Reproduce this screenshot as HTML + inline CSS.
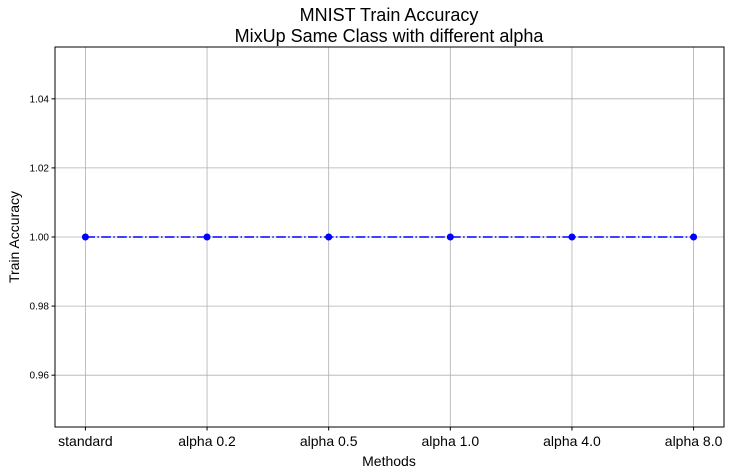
<!DOCTYPE html>
<html><head><meta charset="utf-8"><style>
body{margin:0;background:#fff;}
svg{display:block;font-family:"Liberation Sans","DejaVu Sans",sans-serif;}
</style></head><body>
<svg id="chart" width="733" height="474">
<rect width="733" height="474" fill="#fff"/>
<text x="389" y="21" text-anchor="middle" font-size="18">MNIST Train Accuracy</text>
<text x="389" y="42" text-anchor="middle" font-size="18">MixUp Same Class with different alpha</text>
<g id="grid"></g><g id="series"></g>
<rect x="55" y="47" width="669" height="380" fill="none" stroke="#000" stroke-width="1"/>
<g id="axes"></g>
<text x="389" y="466" text-anchor="middle" font-size="14">Methods</text>
<text transform="translate(19,237) rotate(-90)" text-anchor="middle" font-size="14">Train Accuracy</text>
</svg>
<script>
const categories=["standard","alpha 0.2","alpha 0.5","alpha 1.0","alpha 4.0","alpha 8.0"];
const values=[1.0,1.0,1.0,1.0,1.0,1.0];
const yTicks=[0.96,0.98,1.00,1.02,1.04];
const yTickLabels=["0.96","0.98","1.00","1.02","1.04"];
const L=55,R=724,T=47,B=427,yMin=0.945,yMax=1.055;
const NS="http://www.w3.org/2000/svg";
const xs=i=>L+(i+0.25)/(categories.length-0.5)*(R-L);
const ys=v=>B-(v-yMin)/(yMax-yMin)*(B-T);
function mk(tag,attrs,parent){const e=document.createElementNS(NS,tag);for(const k in attrs)e.setAttribute(k,attrs[k]);parent.appendChild(e);return e;}
const grid=document.getElementById('grid'),axes=document.getElementById('axes'),ser=document.getElementById('series');
categories.forEach((c,i)=>{
 const x=xs(i);
 const g=mk('line',{x1:x,x2:x,y1:T,y2:B,stroke:'#b0b0b0','stroke-width':0.8},grid);
 
 
 const tk=mk('line',{x1:x,x2:x,y1:B,y2:B+3.5,stroke:'#000'},axes);
 
 
 const t=mk('text',{x:x,y:B+19,'text-anchor':'middle','font-size':14},axes);
 t.textContent=c;
 
 
});
yTicks.forEach((v,i)=>{
 const y=ys(v);
 const g=mk('line',{x1:L,x2:R,y1:y,y2:y,stroke:'#b0b0b0','stroke-width':0.8},grid);
 
 
 const tk=mk('line',{x1:L-3.5,x2:L,y1:y,y2:y,stroke:'#000'},axes);
 
 
 const t=mk('text',{x:L-6,y:y+3.5,'text-anchor':'end','font-size':10},axes);
 t.textContent=yTickLabels[i];
 
 
});
const pl=mk('polyline',{points:values.map((v,i)=>xs(i)+','+ys(v)).join(' '),fill:'none',stroke:'#0000ff','stroke-width':1.5,'stroke-dasharray':'9.6,2.4,1.5,2.4'},ser);


values.forEach((v,i)=>{
 const c=mk('circle',{cx:xs(i),cy:ys(v),r:3.5,fill:'#0000ff'},ser);
 
 
});
</script>
</body></html>
